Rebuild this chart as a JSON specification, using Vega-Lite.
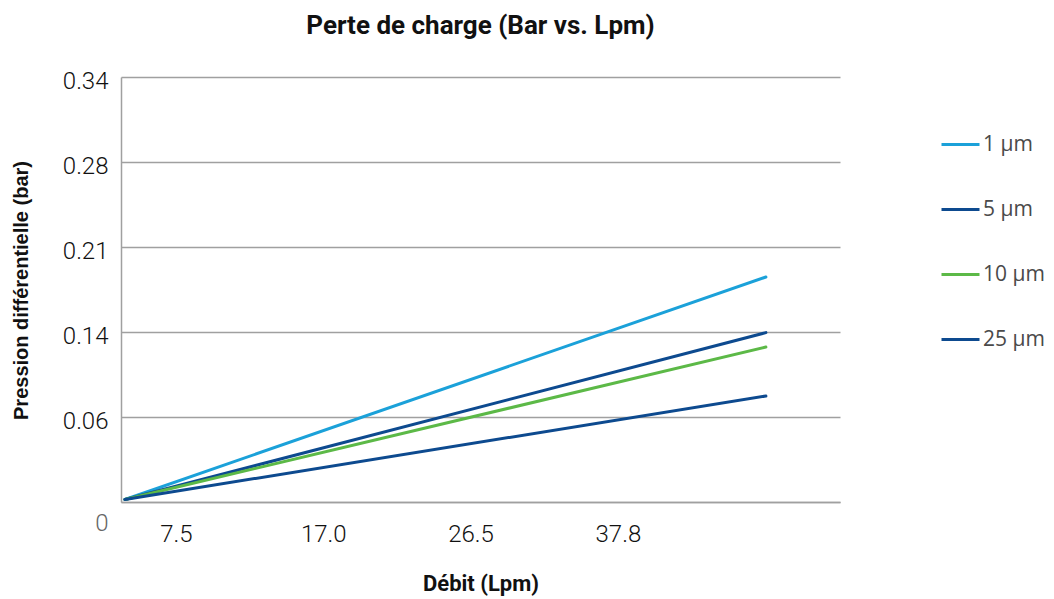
{
  "$schema": "https://vega.github.io/schema/vega-lite/v6.json",
  "width": 719,
  "height": 425,
  "autosize": {"type": "none"},
  "padding": {"left": 121, "top": 77, "right": 214, "bottom": 97},
  "background": "white",
  "title": {
    "text": "Perte de charge (Bar vs. Lpm)",
    "font": "Roboto",
    "fontSize": 26,
    "fontWeight": 700,
    "color": "#111111",
    "anchor": "middle",
    "frame": "group",
    "offset": 30
  },
  "config": {
    "view": {"stroke": null},
    "axis": {"labelFont": "Roboto", "labelFontWeight": 300}
  },
  "data": {
    "values": [
      {"serie": "1 µm", "position": 0.654, "pression": 0.002},
      {"serie": "1 µm", "position": 5.005, "pression": 0.18},
      {"serie": "5 µm", "position": 0.654, "pression": 0.002},
      {"serie": "5 µm", "position": 5.005, "pression": 0.1355},
      {"serie": "10 µm", "position": 0.654, "pression": 0.002},
      {"serie": "10 µm", "position": 5.005, "pression": 0.124},
      {"serie": "25 µm", "position": 0.654, "pression": 0.002},
      {"serie": "25 µm", "position": 5.005, "pression": 0.0848}
    ]
  },
  "mark": {"type": "line", "strokeWidth": 3, "strokeCap": "round", "clip": false},
  "encoding": {
    "x": {
      "field": "position",
      "type": "quantitative",
      "scale": {"domain": [0.627, 5.508], "nice": false, "zero": false},
      "axis": {
        "values": [1, 2, 3, 4],
        "labelExpr": "datum.value == 1 ? '7.5' : datum.value == 2 ? '17.0' : datum.value == 3 ? '26.5' : '37.8'",
        "grid": false,
        "ticks": false,
        "domainColor": "#a0a0a0",
        "domainWidth": 1.5,
        "labelFontSize": 24,
        "labelColor": "#111111",
        "labelPadding": 20,
        "title": "Débit (Lpm)",
        "titleFont": "Roboto",
        "titleFontSize": 22,
        "titleFontWeight": 700,
        "titleColor": "#111111",
        "titleBaseline": "middle",
        "titleY": 81
      }
    },
    "y": {
      "field": "pression",
      "type": "quantitative",
      "scale": {"domain": [0, 0.34], "nice": false},
      "axis": {
        "values": [0, 0.068, 0.136, 0.204, 0.272, 0.34],
        "labelExpr": "datum.value < 0.01 ? '0' : datum.value < 0.1 ? '0.06' : datum.value < 0.15 ? '0.14' : datum.value < 0.22 ? '0.21' : datum.value < 0.3 ? '0.28' : '0.34'",
        "grid": true,
        "gridColor": "#a0a0a0",
        "gridWidth": 1.5,
        "ticks": false,
        "domainColor": "#a0a0a0",
        "domainWidth": 1.5,
        "labelFontSize": 24,
        "labelColor": {"condition": {"test": "datum.value < 0.01", "value": "#666666"}, "value": "#111111"},
        "labelOffset": {"condition": {"test": "datum.value < 0.01", "value": 21}, "value": 4},
        "labelPadding": 13,
        "title": "Pression différentielle (bar)",
        "titleFont": "Liberation Sans",
        "titleFontSize": 20,
        "titleFontWeight": 700,
        "titleColor": "#111111",
        "titleBaseline": "middle",
        "titleAngle": 270,
        "titleX": -100,
        "titleY": 213
      }
    },
    "color": {
      "field": "serie",
      "type": "nominal",
      "scale": {
        "domain": ["1 µm", "5 µm", "10 µm", "25 µm"],
        "range": ["#1ba1d9", "#0d4a8f", "#5cb947", "#0d4a8f"]
      },
      "legend": {
        "orient": "none",
        "legendX": 819,
        "legendY": 47,
        "title": null,
        "padding": 0,
        "symbolType": "stroke",
        "symbolSize": 1444,
        "symbolStrokeWidth": 3,
        "labelFont": "Open Sans",
        "labelFontSize": 21,
        "labelColor": "#4a4a4a",
        "labelOffset": 2,
        "rowPadding": 34
      }
    }
  }
}
